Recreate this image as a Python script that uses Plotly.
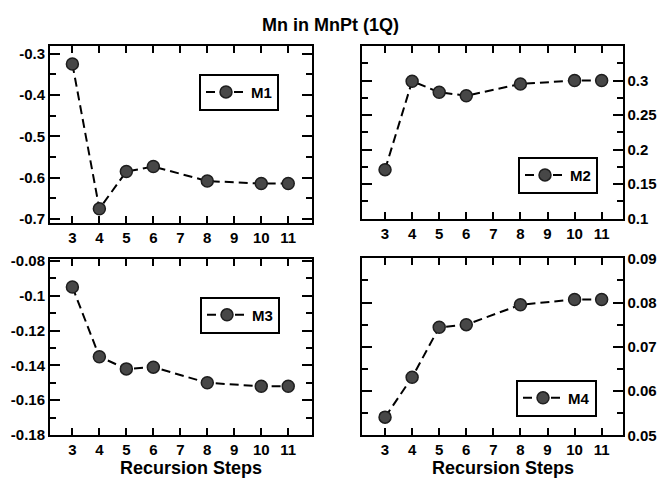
import plotly.graph_objects as go

W, H = 660, 487

steps = [3, 4, 5, 6, 8, 10, 11]
m1 = [-0.325, -0.675, -0.585, -0.573, -0.608, -0.614, -0.614]
m2 = [0.171, 0.299, 0.283, 0.278, 0.295, 0.300, 0.300]
m3 = [-0.095, -0.135, -0.142, -0.141, -0.150, -0.152, -0.152]
m4 = [0.0541, 0.0631, 0.0744, 0.0750, 0.0795, 0.0807, 0.0807]
series_names = ["M1", "M2", "M3", "M4"]
xticks = [3, 4, 5, 6, 7, 8, 9, 10, 11]

FONT = "Liberation Sans, Arial, Helvetica, sans-serif"

# panel pixel boxes: (x0, x1, y0_top, y1_bottom)
panels = [
    (50, 311.7, 38.3, 221.7),
    (362.3, 622.5, 38.3, 217.3),
    (50, 311.7, 259, 441.5),
    (362.3, 622.5, 258.3, 441.7),
]
xranges = [[2.17, 11.87], [2.16, 11.77], [2.17, 11.87], [2.16, 11.77]]
yranges = [[-0.7093, -0.2814], [0.1, 0.35], [-0.18, -0.0789], [0.05, 0.09]]
ydticks = [(0.1, 0.05, "-0.7"), (0.05, 0.025, "0.1"), (0.02, 0.01, "-0.18"), (0.01, 0.005, "0.05")]
yticks_major = [
    [-0.7, -0.6, -0.5, -0.4, -0.3],
    [0.1, 0.15, 0.2, 0.25, 0.3],
    [-0.18, -0.16, -0.14, -0.12, -0.1, -0.08],
    [0.05, 0.06, 0.07, 0.08, 0.09],
]
ytick_text = [
    ["-0.7", "-0.6", "-0.5", "-0.4", "-0.3"],
    ["0.1", "0.15", "0.2", "0.25", "0.3"],
    ["-0.18", "-0.16", "-0.14", "-0.12", "-0.1", "-0.08"],
    ["0.05", "0.06", "0.07", "0.08", "0.09"],
]
yside = ["left", "right", "left", "right"]
# legend box (right edge, top edge) in pixels
legend_pos = [(279, 67), (598, 153), (280, 298), (597, 384)]

data = [m1, m2, m3, m4]

fig = go.Figure()
layout = dict(
    width=W, height=H,
    margin=dict(l=0, r=0, t=0, b=0),
    paper_bgcolor="white", plot_bgcolor="white",
    showlegend=True,
    font=dict(family=FONT, color="black"),
)

for i in range(4):
    k = "" if i == 0 else str(i + 1)
    x0, x1, yt, yb = panels[i]
    leg = "legend" if i == 0 else f"legend{i+1}"
    fig.add_trace(go.Scatter(
        x=steps, y=data[i], name=series_names[i],
        mode="lines+markers",
        line=dict(color="black", width=2, dash="9px,5px"),
        marker=dict(size=12, color="#474747", line=dict(color="#1e1e1e", width=1.5)),
        xaxis="x" + k, yaxis="y" + k,
        legend=leg,
    ))
    layout["xaxis" + k] = dict(
        domain=[x0 / W, x1 / W], anchor="y" + k,
        range=xranges[i], tickmode="array", tickvals=xticks,
        ticks="inside", ticklen=7, tickwidth=2, tickcolor="black",
        showline=True, linewidth=2, linecolor="black", mirror="allticks",
        showgrid=False, zeroline=False,
        tickfont=dict(size=15, family=FONT, weight="bold"),
    )
    layout["yaxis" + k] = dict(
        domain=[1 - yb / H, 1 - yt / H], anchor="x" + k,
        side=yside[i],
        range=yranges[i], tickmode="array", tickvals=yticks_major[i], ticktext=ytick_text[i],
        ticks="inside", ticklen=10, tickwidth=2, tickcolor="black",
        minor=dict(ticks="inside", ticklen=6, tickwidth=1.5, tickcolor="black",
                   dtick=ydticks[i][1], tick0=float(ydticks[i][2]), showgrid=False),
        showline=True, linewidth=2, linecolor="black", mirror="allticks",
        showgrid=False, zeroline=False,
        tickfont=dict(size=15, family=FONT, weight="bold"),
    )
    lx, ly = legend_pos[i]
    layout[leg] = dict(
        x=lx / W, y=1 - ly / H, xanchor="right", yanchor="top",
        xref="paper", yref="paper",
        bordercolor="black", borderwidth=2, bgcolor="white",
        font=dict(size=15, family=FONT, weight="bold"),
        itemwidth=40,
    )

annotations = [
    dict(text="<b>Mn in MnPt (1Q)</b>", x=330 / W, y=1 - 17 / H, xref="paper", yref="paper",
         showarrow=False, xanchor="center", yanchor="middle",
         font=dict(size=18, family=FONT)),
    dict(text="<b>Recursion Steps</b>", x=190.5 / W, y=1 - 476 / H, xref="paper", yref="paper",
         showarrow=False, xanchor="center", yanchor="middle",
         font=dict(size=18, family=FONT)),
    dict(text="<b>Recursion Steps</b>", x=503 / W, y=1 - 476 / H, xref="paper", yref="paper",
         showarrow=False, xanchor="center", yanchor="middle",
         font=dict(size=18, family=FONT)),
]
layout["annotations"] = annotations
fig.update_layout(**layout)
fig.write_html(
    "out.html",
    config={"displayModeBar": False},
    post_script="document.body.style.margin='0';document.body.style.padding='0';document.body.style.overflow='hidden';",
)
